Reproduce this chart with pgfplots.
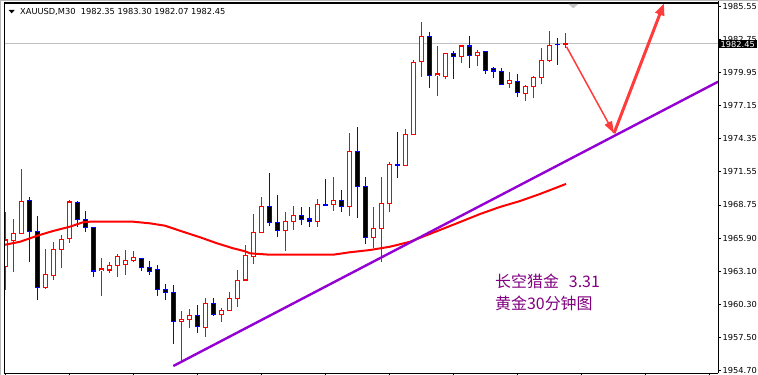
\documentclass[border=0pt]{standalone}
\usepackage{pgfplots}
\pgfplotsset{compat=1.18}
\usepackage{pgfplotstable}
\usepackage{fontspec}
\usetikzlibrary{arrows.meta}
\newfontfamily\dejavu{DejaVu Sans}
\newfontfamily\cjk{Noto Sans CJK SC}
\definecolor{upred}{RGB}{255,0,0}
\definecolor{dnblue}{RGB}{0,0,255}
\definecolor{trend}{RGB}{148,0,211}
\definecolor{txtpurple}{RGB}{128,0,128}
\definecolor{arrowred}{RGB}{255,60,60}
\definecolor{pricegray}{RGB}{192,192,192}

% bullish candles: index, open, high, low, close
\pgfplotstableread{
k O H L C
0 1963.52 1968.18 1961.54 1965.78
1 1965.72 1967.56 1963.09 1966.35
2 1966.35 1971.80 1966.29 1969.06
5 1961.77 1964.99 1961.60 1962.87
6 1962.79 1965.58 1962.39 1964.99
7 1964.99 1966.20 1963.43 1965.84
8 1965.92 1969.17 1965.55 1969.00
12 1963.21 1964.25 1961.06 1963.32
13 1963.24 1963.89 1962.96 1963.63
14 1963.63 1964.59 1962.62 1964.40
15 1963.70 1964.93 1962.81 1964.07
16 1964.02 1964.85 1963.89 1964.31
22 1958.89 1959.74 1955.38 1959.06
23 1959.06 1959.93 1958.32 1959.40
25 1958.38 1960.86 1957.58 1960.41
27 1959.48 1959.99 1958.83 1959.82
28 1959.82 1961.40 1959.76 1960.84
29 1960.84 1963.24 1960.13 1962.36
30 1962.39 1965.35 1962.33 1964.47
31 1964.40 1967.98 1963.72 1966.43
32 1966.43 1969.42 1966.40 1968.63
35 1966.60 1968.13 1964.87 1967.36
36 1967.36 1968.63 1966.65 1967.87
39 1967.36 1969.23 1966.91 1968.80
41 1968.80 1971.12 1968.26 1969.14
43 1968.63 1974.85 1967.84 1973.30
46 1966.01 1968.55 1965.08 1966.77
47 1966.77 1971.09 1963.89 1968.89
48 1968.89 1972.36 1968.13 1972.19
50 1972.11 1975.16 1972.08 1974.74
51 1974.72 1981.01 1974.70 1980.84
52 1980.92 1984.23 1979.62 1983.04
54 1979.74 1982.22 1977.98 1979.85
55 1979.63 1981.61 1979.40 1981.60
57 1981.35 1982.25 1980.80 1982.22
59 1981.43 1981.88 1980.52 1981.69
63 1979.06 1979.99 1978.63 1979.31
65 1978.21 1978.91 1977.53 1978.80
66 1978.80 1979.65 1977.79 1979.57
67 1979.57 1982.05 1978.97 1981.01
68 1981.01 1983.49 1980.84 1982.28
70 1982.35 1983.30 1982.07 1982.45
}\upTable

% bearish candles: index, open, high, low, close
\pgfplotstableread{
k O H L C
3 1969.14 1969.40 1963.94 1966.52
4 1966.52 1967.77 1960.69 1961.77
9 1968.97 1969.06 1966.91 1967.53
10 1967.53 1968.24 1966.48 1966.86
11 1966.86 1966.88 1962.62 1963.15
17 1964.19 1964.28 1963.18 1963.43
18 1963.47 1964.00 1962.84 1963.09
19 1963.30 1963.66 1961.03 1961.60
20 1961.60 1962.02 1960.69 1961.35
21 1961.31 1961.94 1956.97 1958.89
24 1959.40 1960.27 1957.90 1958.47
26 1960.41 1960.84 1959.36 1959.48
33 1968.63 1971.46 1966.99 1967.28
34 1967.28 1969.59 1966.01 1966.60
37 1967.87 1968.55 1967.02 1967.53
38 1967.56 1968.55 1966.86 1967.36
40 1968.79 1970.95 1968.71 1968.74
42 1969.14 1970.02 1968.18 1968.63
44 1973.30 1975.36 1967.67 1970.33
45 1970.33 1971.09 1965.46 1966.01
49 1972.19 1974.91 1971.06 1972.11
53 1983.04 1983.38 1978.69 1979.74
56 1981.60 1981.77 1979.45 1981.35
58 1982.22 1983.07 1980.38 1981.43
60 1981.77 1981.80 1979.82 1980.16
61 1980.33 1980.41 1979.48 1980.10
62 1980.08 1980.38 1978.95 1978.97
64 1979.23 1979.82 1977.87 1978.30
69 1982.35 1982.90 1980.64 1982.32
}\downTable

\begin{document}
\begin{tikzpicture}
\useasboundingbox (0,0) rectangle (758bp,375bp);
\begin{axis}[
  at={(4bp,2bp)}, anchor=south west,
  scale only axis, width=714bp, height=373bp,
  xmin=-0.2125, xmax=89.0375, ymin=1954.507, ymax=1986.118,
  axis x line*=bottom, axis y line*=right,
  axis line style={black, line width=1bp, -},
  xtick={0,8,...,88}, xticklabels={},
  ytick={1954.70,1957.50,1960.30,1963.10,1965.90,1968.75,1971.55,1974.35,1977.15,1979.95,1982.75,1985.55},
  yticklabels={1954.70,1957.50,1960.30,1963.10,1965.90,1968.75,1971.55,1974.35,1977.15,1979.95,1982.75,1985.55},
  tick align=outside, major tick length=3bp,
  tick style={black, line width=0.8bp},
  yticklabel style={font=\dejavu\fontsize{8.3}{9}\selectfont, inner sep=0pt, xshift=1.5bp, anchor=west},
  /pgf/number format/assume math mode=true,
]
% current price line
\addplot[pricegray, line width=0.8bp] coordinates {(-0.2125,1982.45) (89.0375,1982.45)};
% wicks
\addplot[upred, mark=none, quiver={u=0, v={\thisrow{H}-\thisrow{L}},
    every arrow/.append style={draw=upred, line width=1.2bp}}]
  table[x=k, y=L] {\upTable};
\addplot[dnblue, mark=none, quiver={u=0, v={\thisrow{H}-\thisrow{L}},
    every arrow/.append style={draw=dnblue, line width=1.2bp}}]
  table[x=k, y=L] {\downTable};
% bodies: up (red outline, white inside)
\addplot[upred, mark=none, quiver={u=0, v={\thisrow{C}-\thisrow{O}+0.1},
    every arrow/.append style={draw=upred, line width=5.4bp}}]
  table[x=k, y expr={\thisrow{O}-0.05}] {\upTable};
\addplot[white, mark=none, quiver={u=0, v={max(\thisrow{C}-\thisrow{O}-0.1,0)},
    every arrow/.append style={draw=white, line width=3.2bp}}]
  table[x=k, y expr={\thisrow{O}+0.05}] {\upTable};
% bodies: down (blue outline, black inside)
\addplot[dnblue, mark=none, quiver={u=0, v={\thisrow{O}-\thisrow{C}+0.1},
    every arrow/.append style={draw=dnblue, line width=5.4bp}}]
  table[x=k, y expr={\thisrow{C}-0.05}] {\downTable};
\addplot[black, mark=none, quiver={u=0, v={max(\thisrow{O}-\thisrow{C}-0.1,0)},
    every arrow/.append style={draw=black, line width=3.2bp}}]
  table[x=k, y expr={\thisrow{C}+0.05}] {\downTable};
% moving average
\addplot[upred, line width=2bp] coordinates {
(-0.21,1965.36) (1.79,1965.63) (4.04,1966.16) (5.91,1966.54) (8.04,1966.91)
(9.66,1967.28) (10.54,1967.33) (15.91,1967.33) (18.04,1967.19) (19.91,1966.99)
(22.16,1966.48) (24.29,1966.01) (26.41,1965.50) (28.41,1965.08) (29.91,1964.82)
(30.54,1964.65) (33.04,1964.53) (40.91,1964.53) (43.04,1964.74) (45.54,1964.93)
(48.04,1965.21) (50.54,1965.63) (54.29,1966.63) (56.79,1967.30) (59.29,1967.98)
(61.79,1968.58) (64.29,1969.08) (66.79,1969.68) (70.04,1970.53)};
% trend line
\addplot[trend, line width=2.4bp] coordinates {(20.95,1955.10) (89.04,1979.19)};
% arrows
\addplot[arrowred, line width=1.5bp, -{Triangle[length=12bp,width=8bp]}] coordinates {(70.1,1982.16) (76.04,1974.82)};
\addplot[arrowred, line width=3bp, -{Triangle[length=12bp,width=9bp]}] coordinates {(76.04,1974.82) (82.29,1985.84)};
\end{axis}
% frame pieces
\draw[gray!55, line width=1.3bp] (0.65bp,0) -- (0.65bp,375bp);
\draw[gray!55, line width=1bp] (0,374.4bp) -- (758bp,374.4bp);
\draw[black, line width=1.2bp] (4.2bp,372bp) -- (718bp,372bp);
\draw[black, line width=1bp] (4.2bp,2bp) -- (4.2bp,372bp);
\fill[gray!45] (568.3bp,371bp) -- (578.3bp,371bp) -- (573.3bp,366.7bp) -- cycle;
% current price box
\node[anchor=west, fill=black, text=white, inner xsep=1.8bp, inner ysep=0pt, minimum height=8.5bp,
  font=\dejavu\fontsize{8.3}{9}\selectfont] at (718.6bp,330.8bp) {1982.45};
% title
\fill[black] (8.7bp,365bp) -- (14.7bp,365bp) -- (11.7bp,361.7bp) -- cycle;
\node[anchor=west, inner sep=0pt, font=\dejavu\fontsize{8.3}{9}\selectfont] at (20bp,362.7bp)
  {XAUUSD,M30\ \ 1982.35 1983.30 1982.07 1982.45};
% annotation text
\node[anchor=base west, inner sep=0pt, text=txtpurple, font=\cjk\fontsize{16}{18}\selectfont]
  at (495bp,87.3bp) {长空猎金\hspace{10bp}3.31};
\node[anchor=base west, inner sep=0pt, text=txtpurple, font=\cjk\fontsize{16}{18}\selectfont]
  at (495bp,65bp) {黄金30分钟图};
\end{tikzpicture}
\end{document}
